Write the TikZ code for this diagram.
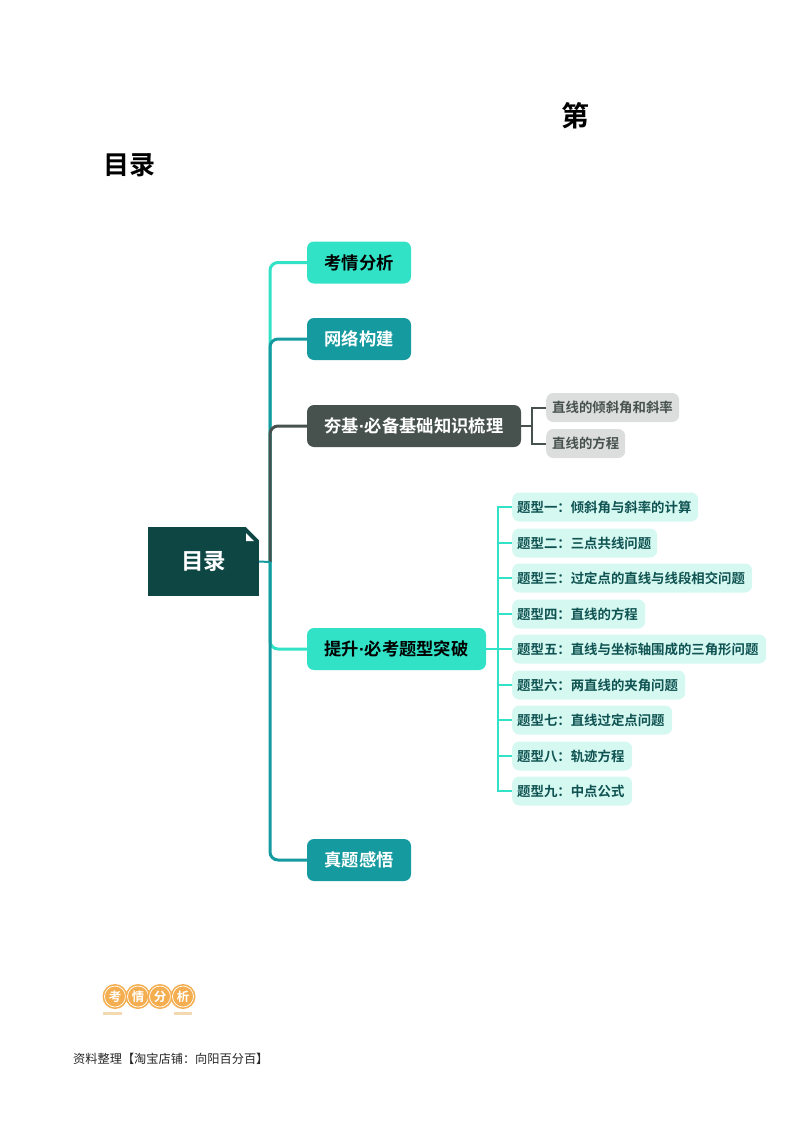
\documentclass[tikz,border=0pt]{standalone}
\usepackage{fontspec}
\setmainfont{Noto Sans CJK SC}
\newfontfamily\heavyfont{Noto Sans CJK SC Bold}
\newfontfamily\dotfont{Liberation Sans Bold}
\definecolor{aqua}{HTML}{32E2C6}
\definecolor{teal1}{HTML}{159A9F}
\definecolor{slate}{HTML}{47524F}
\definecolor{deep}{HTML}{0E4644}
\definecolor{pale}{HTML}{D5F8F1}
\definecolor{ash}{HTML}{DCDEDD}
\definecolor{gold}{HTML}{F4AE50}
\definecolor{sand}{HTML}{F3D9B2}
\tikzset{
  topic/.style={rounded corners=7pt,inner sep=0pt,minimum height=42pt,font=\heavyfont\fontsize{17.3}{17.3}\selectfont},
  hint/.style={rounded corners=7pt,inner sep=0pt,minimum height=29pt,fill=ash,text=slate,anchor=west,align=left,font=\heavyfont\fontsize{13.4}{14}\selectfont},
  kind/.style={rounded corners=7pt,inner sep=0pt,minimum height=29pt,fill=pale,text=deep!85!teal1,anchor=west,align=left,font=\heavyfont\fontsize{13.4}{14}\selectfont},
  link/.style={line width=3pt,rounded corners=8pt},
  twig/.style={line width=2pt},
  coin/.style={circle,draw=white,line width=0.7pt,minimum size=21pt,inner sep=0pt,text=white,font=\heavyfont\fontsize{12.5}{12.5}\selectfont}
}
\begin{document}
\begin{tikzpicture}[x=1pt,y=-1pt]
\useasboundingbox (0,0) rectangle (800,1132);
% headings
\node[font=\heavyfont\fontsize{28}{28}\selectfont] (ti) at (575,116) {第};
\node[font=\heavyfont\fontsize{26}{26}\selectfont] (tc) at (129.5,165) {目录};
% main topics
\node[topic,fill=deep,text=white,minimum width=111pt,minimum height=69pt,rounded corners=0pt,font=\heavyfont\fontsize{22.5}{22.5}\selectfont] (root) at (203.5,561.5) {\raisebox{-1.5pt}{目录}};
\fill[white] (245,526) -- (260,526) -- (260,541) -- cycle;
\fill[white] (246,533) -- (246,541) -- (254,541) -- cycle;
\node[topic,fill=aqua,text=black,minimum width=104pt] (t1) at (359,262.5) {考情分析};
\node[topic,fill=teal1,text=white,minimum width=104pt] (t2) at (359,339) {网络构建};
\node[topic,fill=slate,text=white,minimum width=214pt] (t3) at (414,426) {夯基{\dotfont·}必备基础知识梳理};
\node[topic,fill=aqua,text=black,minimum width=179pt] (t4) at (396.5,649) {提升{\dotfont·}必考题型突破};
\node[topic,fill=teal1,text=white,minimum width=104pt] (t5) at (359,860) {真题感悟};
\coordinate (hub) at (270,562);
% trunk
\draw[link,aqua] (hub) |- (t1.west);
\draw[link,teal1] (hub) |- (t2.west);
\draw[link,slate] (hub) |- (t3.west);
\draw[link,aqua] (hub) |- (t4.west);
\draw[link,teal1] (hub) |- (t5.west);
\draw[twig,teal1] (root.east) -- (hub);
% first branch
\node[hint,minimum width=133pt,text width=121pt] (h1) at (546,407.5) {直线的倾斜角和斜率};
\node[hint,minimum width=79pt,text width=67pt] (h2) at (546,443.5) {直线的方程};
\coordinate (hj) at (532,426);
\draw[twig,slate] (t3.east) -- (hj);
\draw[twig,slate] (h1.west) -| (hj) |- (h2.west);
% second branch
\foreach \nm/\yy/\ww/\tx in {
  k1/507/186/题型一：倾斜角与斜率的计算,
  k2/543/145/题型二：三点共线问题,
  k3/578/240/题型三：过定点的直线与线段相交问题,
  k4/614/133/题型四：直线的方程,
  k5/649/254/题型五：直线与坐标轴围成的三角形问题,
  k6/685/173/题型六：两直线的夹角问题,
  k7/720/160/题型七：直线过定点问题,
  k8/756/120/题型八：轨迹方程,
  k9/791/120/题型九：中点公式}{
  \node[kind,minimum width=\ww pt,text width=\ww pt-10pt] (\nm) at (512,\yy) {\tx};
}
\coordinate (kj) at (498,649);
\draw[twig,aqua] (t4.east) -- (k5.west);
\draw[twig,aqua] (k1.west) -| (kj) |- (k9.west);
\foreach \nm in {k2,k3,k4,k6,k7,k8}{
  \draw[twig,aqua] (\nm.west) -- (\nm.west -| kj);
}
% badge
\foreach \nm/\xx/\tx in {c1/115/考,c2/138/情,c3/160/分,c4/183/析}{
  \fill[gold] (\xx,996.5) circle (12.5);
  \node[coin] (\nm) at (\xx,996.5) {\tx};
}
\fill[sand] (103,1011.5) rectangle (122,1014.5);
\fill[sand] (174,1011.5) rectangle (192,1014.5);
% footer
\node[anchor=west,inner sep=0pt,text=black!85,font=\fontsize{12.2}{13}\selectfont] (ft) at (73,1059) {资料整理【淘宝店铺：向阳百分百】};
\end{tikzpicture}
\end{document}
